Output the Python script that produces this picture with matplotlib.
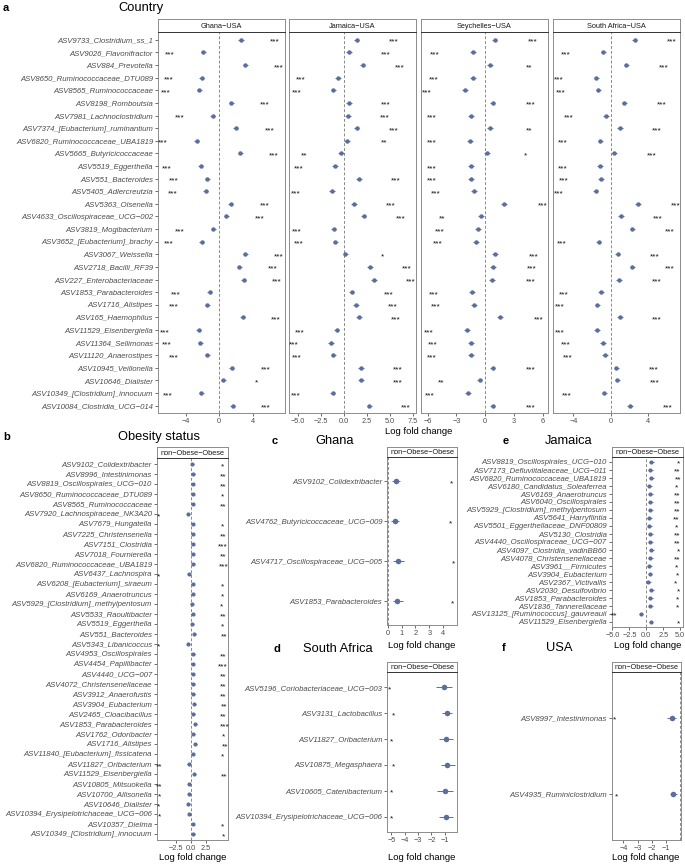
import numpy as np
import matplotlib
matplotlib.use("Agg")
import matplotlib.pyplot as plt
from matplotlib.transforms import offset_copy

plt.rcParams['font.family'] = ['Liberation Sans', 'DejaVu Sans']

# ---- panel a: Country contrasts ----
country_taxa = ["ASV9733_Clostridium_ss_1", "ASV9026_Flavonifractor", "ASV884_Prevotella",
                "ASV8650_Ruminococcaceae_DTU089", "ASV8565_Ruminococcaceae", "ASV8198_Romboutsia",
                "ASV7981_Lachnoclostridium", "ASV7374_[Eubacterium]_ruminantium",
                "ASV6820_Ruminococcaceae_UBA1819", "ASV5665_Butyricicoccaceae", "ASV5519_Eggerthella",
                "ASV551_Bacteroides", "ASV5405_Adlercreutzia", "ASV5363_Olsenella",
                "ASV4633_Oscillospiraceae_UCG\u2212002", "ASV3819_Mogibacterium",
                "ASV3652_[Eubacterium]_brachy", "ASV3067_Weissella", "ASV2718_Bacilli_RF39",
                "ASV227_Enterobacteriaceae", "ASV1853_Parabacteroides", "ASV1716_Alistipes",
                "ASV165_Haemophilus", "ASV11529_Eisenbergiella", "ASV11364_Sellimonas",
                "ASV11120_Anaerostipes", "ASV10945_Veillonella", "ASV10646_Dialister",
                "ASV10349_[Clostridium]_innocuum", "ASV10084_Clostridia_UCG\u2212014"]
contrasts = ["Ghana\u2212USA", "Jamaica\u2212USA", "Seychelles\u2212USA", "South Africa\u2212USA"]
ghana_lfc = [2.6, -1.9, 3.1, -2.06, -2.4, 1.43, -0.75, 2.0, -2.7, 2.5, -2.2, -1.4, -1.6, 1.4, 0.83,
             -0.68, -2.06, 3.1, 2.4, 2.9, -1.15, -1.4, 2.8, -2.46, -2.26, -1.4, 1.5, 0.5, -2.14, 1.6]
jamaica_lfc = [1.41, 0.58, 2.06, -0.62, -1.13, 0.58, 0.47, 1.41, 0.36, -0.29, -0.94, 1.67, -1.27, 1.09,
               2.17, -1.1, -0.91, 0.18, 2.86, 3.3, 0.87, 1.34, 1.66, -0.76, -1.38, -1.13, 1.88, 1.88,
               -1.2, 2.79]
seychelles_lfc = [0.97, -1.25, 0.52, -1.31, -2.08, 0.76, -1.52, 0.52, -1.59, 0.21, -1.52, -1.52, -1.14,
                  1.98, -0.48, -0.72, -0.97, 1.04, 0.83, 0.73, -1.38, -1.17, 1.53, -1.87, -1.45, -1.52,
                  0.76, -0.59, -1.76, 0.76]
safrica_lfc = [2.58, -0.79, 1.68, -1.54, -1.33, 1.47, -0.5, 0.97, -1.11, 0.39, -1.15, -1.04, -1.61, 2.94,
               1.11, 2.33, -1.29, 0.75, 2.33, 0.9, -1.04, -1.43, 0.97, -1.47, -0.82, -0.61, 0.61, 0.72,
               -0.68, 2.08]
ghana_sig = ["***"] * 27 + ["*"] + ["***"] * 2
jamaica_sig = ["***"] * 8 + ["**", "**"] + ["***"] * 7 + ["*"] + ["***"] * 12
seychelles_sig = ["***", "***", "**", "***", "***", "***", "***", "**", "***", "*", "***", "***", "***",
                  "***", "**"] + ["***"] * 12 + ["**", "***", "***"]
safrica_sig = ["***"] * 30
country_se = [0.3] * 30

# ---- panel b: Obesity status (all) ----
obes_taxa = ["ASV9102_Colidextribacter", "ASV8996_Intestinimonas", "ASV8819_Oscillospirales_UCG\u2212010",
             "ASV8650_Ruminococcaceae_DTU089", "ASV8565_Ruminococcaceae", "ASV7920_Lachnospiraceae_NK3A20",
             "ASV7679_Hungatella", "ASV7225_Christensenella", "ASV7151_Clostridia", "ASV7018_Fournierella",
             "ASV6820_Ruminococcaceae_UBA1819", "ASV6437_Lachnospira", "ASV6208_[Eubacterium]_siraeum",
             "ASV6169_Anaerotruncus", "ASV5929_[Clostridium]_methylpentosum", "ASV5533_Raoultibacter",
             "ASV5519_Eggerthella", "ASV551_Bacteroides", "ASV5343_Libanicoccus", "ASV4953_Oscillospirales",
             "ASV4454_Papillibacter", "ASV4440_UCG\u2212007", "ASV4072_Christensenellaceae",
             "ASV3912_Anaerofustis", "ASV3904_Eubacterium", "ASV2465_Cloacibacillus",
             "ASV1853_Parabacteroides", "ASV1762_Odoribacter", "ASV1716_Alistipes",
             "ASV11840_[Eubacterium]_fissicatena", "ASV11827_Oribacterium", "ASV11529_Eisenbergiella",
             "ASV10805_Mitsuokella", "ASV10700_Allisonella", "ASV10646_Dialister",
             "ASV10394_Erysipelotrichaceae_UCG\u2212006", "ASV10357_Dielma", "ASV10349_[Clostridium]_innocuum"]
obes_lfc = [0.3, 0.47, 0.37, 0.37, 0.37, -0.37, 0.37, 0.37, 0.37, 0.37, 0.47, -0.3, 0.37, 0.37, 0.2,
            0.37, 0.3, 0.58, -0.37, 0.47, 0.37, 0.37, 0.47, 0.47, 0.58, 0.47, 0.75, 0.47, 0.75, 0.37,
            -0.3, 0.58, -0.25, -0.2, -0.37, -0.2, 0.37, 0.47]
obes_sig = ["*", "**", "**", "*", "**", "*", "*", "**", "***", "**", "***", "*", "*", "*", "*", "**", "*",
            "**", "*", "**", "***", "**", "**", "**", "**", "**", "***", "*", "**", "*", "**", "**", "**",
            "*", "*", "*", "*", "*"]
obes_se = [0.25] * 38

# ---- panel c: Ghana ----
ghana_taxa = ["ASV9102_Colidextribacter", "ASV4762_Butyricicoccaceae_UCG\u2212009",
              "ASV4717_Oscillospiraceae_UCG\u2212005", "ASV1853_Parabacteroides"]
ghana_ob_lfc = [0.57, 0.52, 0.74, 0.67]
ghana_ob_lo = [0.3, 0.25, 0.36, 0.36]
ghana_ob_hi = [0.9, 0.85, 1.2, 1.13]
ghana_ob_sig = ["*", "*", "*", "*"]

# ---- panel d: South Africa ----
sa_taxa = ["ASV5196_Coriobacteriaceae_UCG\u2212003", "ASV3131_Lactobacillus", "ASV11827_Oribacterium",
           "ASV10875_Megasphaera", "ASV10605_Catenibacterium", "ASV10394_Erysipelotrichaceae_UCG\u2212006"]
sa_ob_lfc = [-1.1, -0.84, -0.95, -0.84, -1.02, -0.95]
sa_ob_lo = [-1.67, -1.2, -1.44, -1.32, -1.57, -1.4]
sa_ob_hi = [-0.5, -0.5, -0.42, -0.25, -0.42, -0.37]
sa_ob_sig = ["*"] * 6

# ---- panel e: Jamaica ----
jam_taxa = ["ASV8819_Oscillospirales_UCG\u2212010", "ASV7173_Defluviitaleaceae_UCG\u2212011",
            "ASV6820_Ruminococcaceae_UBA1819", "ASV6180_Candidatus_Soleaferrea", "ASV6169_Anaerotruncus",
            "ASV6040_Oscillospirales", "ASV5929_[Clostridium]_methylpentosum", "ASV5641_Harryflintia",
            "ASV5501_Eggerthellaceae_DNF00809", "ASV5130_Clostridia", "ASV4440_Oscillospiraceae_UCG\u2212007",
            "ASV4097_Clostridia_vadinBB60", "ASV4078_Christensenellaceae", "ASV3961__Firmicutes",
            "ASV3904_Eubacterium", "ASV2367_Victivallis", "ASV2030_Desulfovibrio", "ASV1853_Parabacteroides",
            "ASV1836_Tannerellaceae", "ASV13125_[Ruminococcus]_gauvreauii", "ASV11529_Eisenbergiella"]
jam_ob_lfc = [0.75, 0.6, 0.75, 0.45, 0.6, 0.6, 0.6, 0.45, 0.45, 0.6, 0.6, 0.75, 0.6, 0.45, 0.55, 0.3,
              0.75, 0.6, 0.6, -0.8, 0.7]
jam_ob_sig = ["*", "**", "**", "*", "**", "**", "**", "**", "*", "**", "**", "*", "**", "*", "*", "*",
              "*", "*", "*", "**", "*"]
jam_ob_se = [0.35] * 21

# ---- panel f: USA ----
usa_taxa = ["ASV8997_Intestinimonas", "ASV4935_Ruminiclostridium"]
usa_ob_lfc = [-0.6, -0.48]
usa_ob_lo = [-0.95, -0.75]
usa_ob_hi = [-0.3, -0.2]
usa_ob_sig = ["*", "*"]

W, H = 685, 867
fig = plt.figure(figsize=(W / 100, H / 100), dpi=100)
PT = "#5B6E9D"
GREY = "#8C8C8C"


def box(l, t, r, b):
    return fig.add_axes([l / W, 1 - b / H, (r - l) / W, (b - t) / H])


def strip(l, t, r, b, label):
    s = box(l, t, r, b)
    s.set_xticks([]); s.set_yticks([])
    for k in s.spines.values():
        k.set_color(GREY); k.set_linewidth(0.7)
    s.spines['bottom'].set_color('#333333')
    s.text(0.5, 0.45, label, ha='center', va='center', fontsize=5.3, color='#1A1A1A',
           transform=s.transAxes)


def forest(ax, names, est, lo, hi, sig, off, xlim, ticks, ticklabels, show_y=True,
           ms=3.2, cap=0.8, elw=0.7):
    est = np.array(est); lo = np.array(lo); hi = np.array(hi)
    n = len(names)
    ypos = np.arange(n, 0, -1)
    ax.axvline(0, ls=(0, (3, 2)), color='#8a8a8a', lw=0.7, zorder=0)
    ax.errorbar(est, ypos, xerr=[est - lo, hi - est], fmt='o', color=PT, ms=ms, elinewidth=elw,
                capsize=cap, capthick=elw, mew=0)
    tr = offset_copy(ax.transData, fig=fig, x=0, y=-3.9, units='dots')
    for e, y, s in zip(est, ypos, sig):
        ax.text(e + np.sign(e) * off, y, s, ha='center', va='baseline', fontsize=6,
                color='#111111', transform=tr)
    ax.set_ylim(0.4, n + 0.6)
    ax.set_xlim(xlim)
    ax.set_xticks(ticks)
    ax.set_xticklabels(ticklabels)
    ax.tick_params(axis='x', labelsize=5.3, labelcolor='#4D4D4D', length=2, width=0.5,
                   color='#333333', pad=1.5)
    if show_y:
        ax.set_yticks(ypos)
        ax.set_yticklabels(names, fontsize=5.6, style='italic', color='#4D4D4D')
        ax.tick_params(axis='y', length=2, width=0.5, color='#333333', pad=1.5)
    else:
        ax.set_yticks([])
    for k in ax.spines.values():
        k.set_color(GREY); k.set_linewidth(0.7)
    ax.spines['top'].set_color('#333333')


# panel a
a_vals = [ghana_lfc, jamaica_lfc, seychelles_lfc, safrica_lfc]
a_sigs = [ghana_sig, jamaica_sig, seychelles_sig, safrica_sig]
a_cols = [(158, 285), (289, 416), (421, 548), (553, 680)]
a_lims = [(-7.3, 7.85), (-5.95, 7.86), (-6.68, 6.52), (-6.2, 7.45)]
a_ticks = [[-4, 0, 4], [-5, -2.5, 0, 2.5, 5, 7.5], [-6, -3, 0, 3, 6], [-4, 0, 4]]
a_tlabs = [["\u22124", "0", "4"], ["\u22125.0", "\u22122.5", "0.0", "2.5", "5.0", "7.5"],
           ["\u22126", "\u22123", "0", "3", "6"], ["\u22124", "0", "4"]]
for i in range(4):
    l, r = a_cols[i]
    strip(l, 19, r, 32.3, contrasts[i])
    ax = box(l, 32.3, r, 413.3)
    v = np.array(a_vals[i]); se = np.array(country_se)
    forest(ax, country_taxa, v, v - se, v + se, a_sigs[i], 4, a_lims[i], a_ticks[i], a_tlabs[i],
           show_y=(i == 0), cap=0.6)
fig.text(419 / W, 1 - 432 / H, "Log fold change", ha='center', va='center', fontsize=6.8)
fig.text(3 / W, 1 - 8 / H, "a", fontsize=8, fontweight='bold', va='center')
fig.text(141 / W, 1 - 8 / H, "Country", fontsize=9.3, ha='center', va='center')

# panel b
strip(157, 447, 228, 458, "non\u2212Obese\u2212Obese")
ax = box(157, 458, 228, 840)
v = np.array(obes_lfc); se = np.array(obes_se)
forest(ax, obes_taxa, v, v - se, v + se, obes_sig, 5, (-5.6, 6.25), [-2.5, 0, 2.5],
       ["\u22122.5", "0.0", "2.5"], ms=3.0, cap=0.5)
fig.text(192.5 / W, 1 - 858 / H, "Log fold change", ha='center', va='center', fontsize=6.8)
fig.text(3 / W, 1 - 437 / H, "b", fontsize=8, fontweight='bold', va='center')
fig.text(159 / W, 1 - 437 / H, "Obesity status", fontsize=9.3, ha='center', va='center')

# panel c
strip(387.3, 447, 457.3, 457, "non\u2212Obese\u2212Obese")
ax = box(387.3, 457, 457.3, 625)
forest(ax, ghana_taxa, ghana_ob_lfc, ghana_ob_lo, ghana_ob_hi, ghana_ob_sig, 4, (-0.02, 5.0),
       [0, 1, 2, 3, 4], ["0", "1", "2", "3", "4"], ms=4, cap=2)
fig.text(422 / W, 1 - 645 / H, "Log fold change", ha='center', va='center', fontsize=6.8)
fig.text(272 / W, 1 - 441 / H, "c", fontsize=8, fontweight='bold', va='center')
fig.text(335 / W, 1 - 441 / H, "Ghana", fontsize=9.3, ha='center', va='center')

# panel d
strip(387.3, 662, 457.3, 672, "non\u2212Obese\u2212Obese")
ax = box(387.3, 672, 457.3, 832)
forest(ax, sa_taxa, sa_ob_lfc, sa_ob_lo, sa_ob_hi, sa_ob_sig, 4, (-5.3, -0.07),
       [-5, -4, -3, -2, -1], ["\u22125", "\u22124", "\u22123", "\u22122", "\u22121"], ms=4, cap=2)
fig.text(422 / W, 1 - 858 / H, "Log fold change", ha='center', va='center', fontsize=6.8)
fig.text(274 / W, 1 - 649 / H, "d", fontsize=8, fontweight='bold', va='center')
fig.text(338 / W, 1 - 649 / H, "South Africa", fontsize=9.3, ha='center', va='center')

# panel e
strip(611.7, 447, 683.3, 457, "non\u2212Obese\u2212Obese")
ax = box(611.7, 457, 683.3, 626.7)
v = np.array(jam_ob_lfc); se = np.array(jam_ob_se)
forest(ax, jam_taxa, v, v - se, v + se, jam_ob_sig, 4, (-5.1, 5.45), [-5, -2.5, 0, 2.5, 5],
       ["\u22125.0", "\u22122.5", "0.0", "2.5", "5.0"], ms=3.0, cap=0.5)
fig.text(647.5 / W, 1 - 645 / H, "Log fold change", ha='center', va='center', fontsize=6.8)
fig.text(503 / W, 1 - 441 / H, "e", fontsize=8, fontweight='bold', va='center')
fig.text(569 / W, 1 - 441 / H, "Jamaica", fontsize=9.3, ha='center', va='center')

# panel f
strip(611.7, 662, 680.7, 672, "non\u2212Obese\u2212Obese")
ax = box(611.7, 672, 680.7, 840)
forest(ax, usa_taxa, usa_ob_lfc, usa_ob_lo, usa_ob_hi, usa_ob_sig, 4, (-4.82, 0.03),
       [-4, -3, -2, -1], ["\u22124", "\u22123", "\u22122", "\u22121"], ms=4, cap=2)
fig.text(646 / W, 1 - 858 / H, "Log fold change", ha='center', va='center', fontsize=6.8)
fig.text(502 / W, 1 - 648 / H, "f", fontsize=8, fontweight='bold', va='center')
fig.text(559 / W, 1 - 648 / H, "USA", fontsize=9.3, ha='center', va='center')

fig.savefig("out.png", dpi=100)
